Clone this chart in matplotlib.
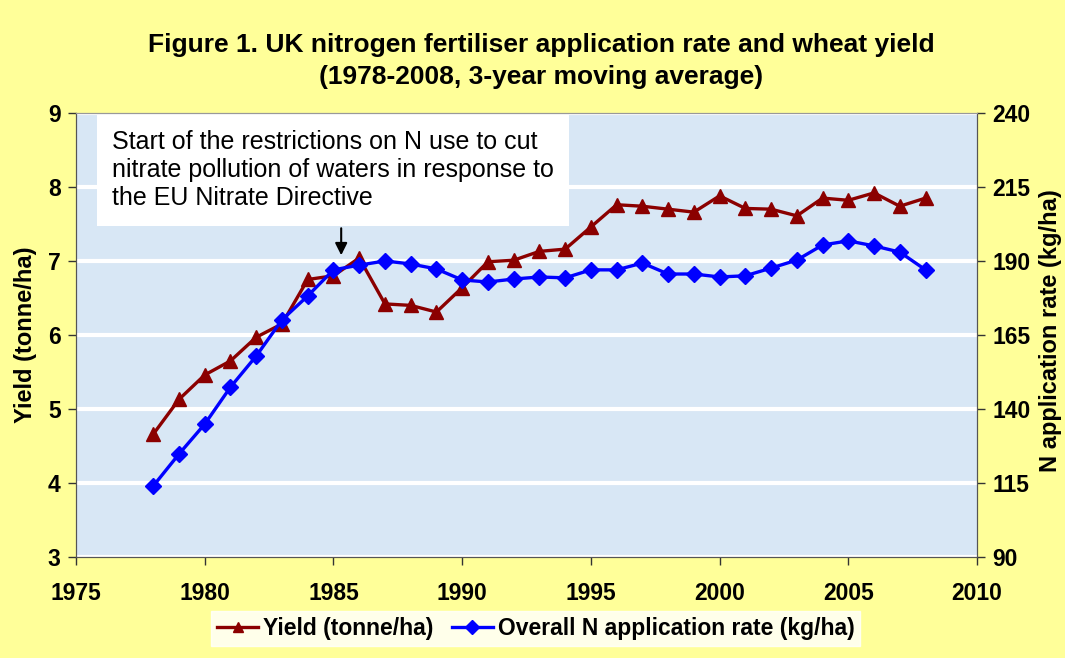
import matplotlib.pyplot as plt

years = list(range(1978, 2009))
yield_t = [4.66, 5.13, 5.46, 5.65, 5.97, 6.15, 6.75, 6.80, 7.04, 6.42, 6.40,
           6.31, 6.64, 6.99, 7.01, 7.13, 7.16, 7.46, 7.76, 7.74, 7.70, 7.66,
           7.88, 7.71, 7.70, 7.61, 7.85, 7.82, 7.92, 7.74, 7.85]
n_rate = [114.0, 124.8, 134.9, 147.4, 157.9, 170.1, 178.2, 187.0, 188.6, 190.0,
          189.0, 187.3, 183.6, 182.9, 183.9, 184.6, 184.3, 187.0, 187.0, 189.3,
          185.6, 185.6, 184.6, 185.0, 187.6, 190.3, 195.4, 196.8, 195.1, 193.0,
          187.0]

plt.rcParams['font.family'] = ['Liberation Sans', 'DejaVu Sans']

fig = plt.figure(figsize=(10.65, 6.58), dpi=100, facecolor='#FFFF99')
ax = fig.add_axes([0.0714, 0.1535, 0.846, 0.6748])
ax.set_facecolor('#D8E7F5')
ax2 = ax.twinx()

ax.set_xlim(1975, 2010)
ax.set_ylim(3, 9)
ax2.set_ylim(90, 240)
ax.set_xticks(range(1975, 2011, 5))
ax.set_yticks(range(3, 10))
ax2.set_yticks(range(90, 241, 25))
ax.grid(axis='y', color='white', linewidth=3)
ax.set_axisbelow(True)

l1, = ax.plot(years, yield_t, color='#8B0000', lw=2.4, marker='^', ms=10,
              label='Yield (tonne/ha)', zorder=3)
l2, = ax2.plot(years, n_rate, color='#0000FF', lw=2.4, marker='D', ms=8,
               label='Overall N application rate (kg/ha)', zorder=3)

for a in (ax, ax2):
    for s in a.spines.values():
        s.set_color('#555555')
    a.spines['top'].set_color('#999999')
    a.tick_params(direction='out', length=6, width=1, color='#333333')
ax.tick_params(axis='y', labelsize=16.5, pad=5)
ax2.tick_params(axis='y', labelsize=16.5, pad=5)
ax.tick_params(axis='x', labelsize=16.5, pad=12)
for lab in ax.get_yticklabels() + ax2.get_yticklabels() + ax.get_xticklabels():
    lab.set_fontweight('bold')

ax.set_ylabel('Yield (tonne/ha)', fontsize=17, fontweight='bold', labelpad=8)
fig.text(0.986, 0.498, 'N application rate (kg/ha)', rotation=90, fontsize=17,
         fontweight='bold', ha='center', va='center')

fig.text(0.508, 0.932, 'Figure 1. UK nitrogen fertiliser application rate and wheat yield',
         ha='center', va='center', fontsize=19, fontweight='bold')
fig.text(0.508, 0.883, '(1978-2008, 3-year moving average)',
         ha='center', va='center', fontsize=19, fontweight='bold')

ax.text(1976.4, 8.77, 'Start of the restrictions on N use to cut\n'
        'nitrate pollution of waters in response to\nthe EU Nitrate Directive',
        fontsize=18, va='top', ha='left', linespacing=1.22, zorder=5,
        bbox=dict(facecolor='white', edgecolor='none', pad=11))
ax.annotate('', xy=(1985.3, 7.04), xytext=(1985.3, 7.48),
            arrowprops=dict(arrowstyle='-|>', color='black', lw=1.5,
                            mutation_scale=18), zorder=6)

leg = fig.legend(handles=[l1, l2], loc='center', bbox_to_anchor=(0.503, 0.045),
                 ncol=2, frameon=True, fancybox=False, handlelength=1.8,
                 handletextpad=0.2, columnspacing=0.8, borderpad=0.25,
                 prop={'weight': 'bold', 'size': 16.5})
leg.get_frame().set_facecolor('white')
leg.get_frame().set_edgecolor('white')
for h in leg.legend_handles:
    h.set_markersize(7)

fig.savefig('out.png', dpi=100, facecolor=fig.get_facecolor())
